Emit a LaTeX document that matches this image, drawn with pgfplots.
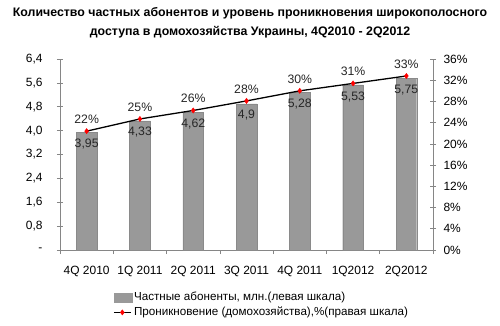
\documentclass[border=0pt]{standalone}
\usepackage{pgfplots}
\pgfplotsset{compat=1.18}
\usepackage{pgfplotstable}
\usepackage{fontspec}
\setmainfont{Liberation Sans}
\definecolor{bargray}{HTML}{999999}
\definecolor{baredge}{HTML}{8A8A8A}
\definecolor{axisgray}{HTML}{868686}
\pgfplotstableread{
x subs slab pen plab
0 3.95 3,95 22.4 22
1 4.33 4,33 24.7 25
2 4.62 4,62 26.3 26
3 4.90 4,9 28.1 28
4 5.28 5,28 30.0 30
5 5.53 5,53 31.4 31
6 5.75 5,75 32.8 33
}\data
\begin{document}
\begin{tikzpicture}
\path[use as bounding box] (-60bp,-76bp) rectangle (440bp,250bp);
\node[align=center, font=\fontsize{12.4}{19.5}\selectfont\bfseries] at (190bp,227bp)
 {Количество частных абонентов и уровень проникновения широкополосного\\доступа в домохозяйства Украины, 4Q2010 - 2Q2012};
\begin{axis}[
 at={(0,0)}, anchor=south west,
 scale only axis, width=373bp, height=191bp,
 xmin=-0.5, xmax=6.5, ymin=0, ymax=6.4,
 axis x line*=bottom, axis y line*=left,
 axis line style={axisgray, line width=0.7pt},
 every tick/.style={axisgray, line width=0.7pt},
 xtick={0,...,6},
 xticklabels={4Q 2010, 1Q 2011, 2Q 2011, 3Q 2011, 4Q 2011, 1Q2012, 2Q2012},
 major x tick style={draw=none},
 minor xtick={-0.5,0.5,1.5,2.5,3.5,4.5,5.5,6.5},
 xtick align=outside,
 minor tick length=4bp,
 xticklabel style={font=\fontsize{12}{14}\selectfont, yshift=-7bp},
 ytick={0,0.8,1.6,2.4,3.2,4.0,4.8,5.6,6.4},
 yticklabels={-,{0,8},{1,6},{2,4},{3,2},{4,0},{4,8},{5,6},{6,4}},
 ytick align=center,
 major tick length=6bp,
 yticklabel style={font=\fontsize{12}{14}\selectfont, xshift=-11bp},
 clip=false,
]
\addplot[ybar, bar width=20.7bp, fill=bargray, draw=baredge,
  nodes near coords, point meta=explicit symbolic,
  every node near coord/.append style={anchor=north, yshift=-3bp, font=\fontsize{12.3}{14}\selectfont, text=black!85}]
  table[x=x, y=subs, meta=slab] {\data};
\end{axis}
\begin{axis}[
 at={(0,0)}, anchor=south west,
 scale only axis, width=373bp, height=191bp,
 xmin=-0.5, xmax=6.5, ymin=0, ymax=36,
 axis x line=none, axis y line*=right,
 axis line style={axisgray, line width=0.7pt},
 every tick/.style={axisgray, line width=0.7pt},
 ytick={0,4,...,36},
 yticklabels={0\%,4\%,8\%,12\%,16\%,20\%,24\%,28\%,32\%,36\%},
 ytick align=center,
 major tick length=6bp,
 yticklabel style={font=\fontsize{12}{14}\selectfont, xshift=4bp},
 clip=false,
 legend style={at={(0.142,-0.21)}, anchor=north west, draw=none, fill=none,
   font=\fontsize{11.7}{14}\selectfont, row sep=1bp, inner sep=0pt,
   cells={anchor=west}},
]
\addlegendimage{legend image code/.code={\fill[bargray] (0bp,-4.5bp) rectangle (18bp,4.5bp);}}
\addlegendentry{Частные абоненты, млн.(левая шкала)}
\addplot[black, line width=1.3pt, mark=diamond*, mark size=2.6bp,
  mark options={red, fill=red, line width=0.4pt},
  nodes near coords={\pgfplotspointmeta\%}, point meta=explicit symbolic,
  every node near coord/.append style={anchor=south, yshift=4bp, font=\fontsize{12.3}{14}\selectfont, text=black!85}]
  table[x=x, y=pen, meta=plab] {\data};
\addlegendentry{Проникновение (домохозяйства),\%(правая шкала)}
\end{axis}
\end{tikzpicture}
\end{document}
